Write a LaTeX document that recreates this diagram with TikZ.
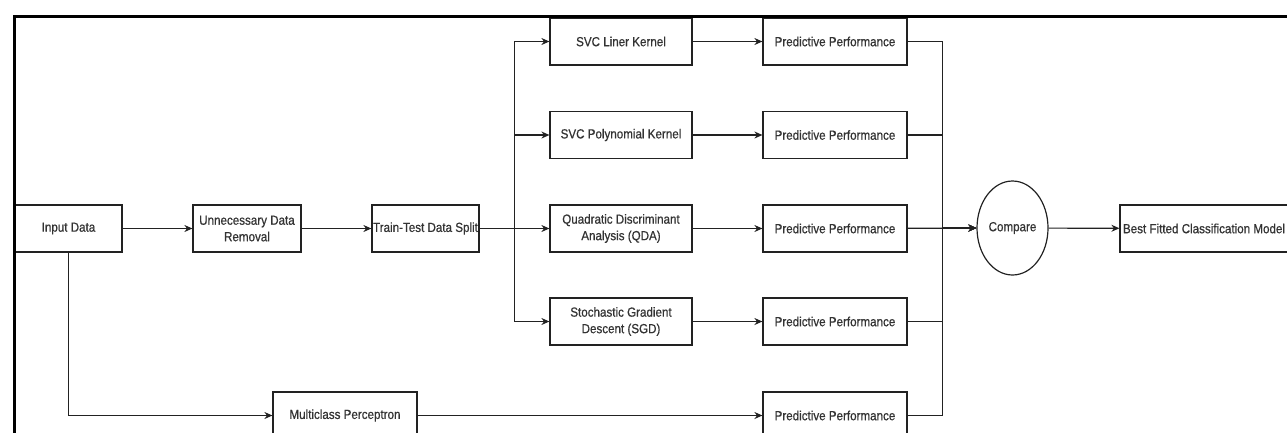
\documentclass[tikz,border=0pt]{standalone}
\usepackage{fontspec}
\setmainfont{Liberation Sans}[FakeStretch=0.88,FakeBold=0.6]
\usetikzlibrary{arrows.meta,shapes.geometric}
\definecolor{txt}{HTML}{333333}
\definecolor{edge}{HTML}{222222}
\begin{document}
\begin{tikzpicture}[x=1pt,y=-1pt,
  box/.style={draw=edge,line width=1.2pt,fill=white,minimum height=47pt,inner sep=1pt,align=center,text=txt,font=\fontsize{13.2}{16.5}\selectfont},
  oval/.style={draw=edge,line width=1.2pt,ellipse,minimum width=71pt,minimum height=94pt,inner sep=0pt,text=txt,font=\fontsize{13.2}{16.5}\selectfont},
  arr/.style={draw=edge,line width=1.2pt,-{Stealth[length=8pt,width=7pt]}},
  frame/.style={draw=black,line width=3pt}]
\useasboundingbox (0,0) rectangle (1287,432);
\clip (0,0) rectangle (1287,432);
% nodes
\node[box,minimum width=107pt] (in) at (68.5,228.5) {Input Data};
\node[box,minimum width=108pt] (rem) at (247,228.5) {Unnecessary Data\\Removal};
\node[box,minimum width=107pt] (split) at (425.5,228.5) {Train-Test Data Split};
\node[box,minimum width=142pt] (svc1) at (621,41.5) {SVC Liner Kernel};
\node[box,minimum width=142pt] (svc2) at (621,135) {SVC Polynomial Kernel};
\node[box,minimum width=142pt] (qda) at (621,228.5) {Quadratic Discriminant\\Analysis (QDA)};
\node[box,minimum width=142pt] (sgd) at (621,321.5) {Stochastic Gradient\\Descent (SGD)};
\node[box,minimum width=144pt] (mlp) at (345,415.5) {Multiclass Perceptron};
\node[box,minimum width=144pt] (pp1) at (835,41.5) {Predictive Performance};
\node[box,minimum width=144pt] (pp2) at (835,135) {Predictive Performance};
\node[box,minimum width=144pt] (pp3) at (835,228.5) {Predictive Performance};
\node[box,minimum width=144pt] (pp4) at (835,321.5) {Predictive Performance};
\node[box,minimum width=144pt] (pp5) at (835,415.5) {Predictive Performance};
\node[oval] (cmp) at (1012.5,228) {Compare};
\node[box,minimum width=168pt] (best) at (1204,228.5) {Best Fitted Classification Model};
% connectors
\draw[arr] (in) -- (rem);
\draw[arr] (rem) -- (split);
\draw[arr] (split) -- (qda);
\draw[arr] (split.east) -- ++(35,0) |- (svc1.west);
\draw[arr] (split.east) -- ++(35,0) |- (svc2.west);
\draw[arr] (split.east) -- ++(35,0) |- (sgd.west);
\draw[arr] (in.south) |- (mlp.west);
\draw[arr] (svc1) -- (pp1);
\draw[arr] (svc2) -- (pp2);
\draw[arr] (qda) -- (pp3);
\draw[arr] (sgd) -- (pp4);
\draw[arr] (mlp) -- (pp5);
\draw[arr] (pp3) -- (cmp);
\draw[arr] (pp1.east) -- ++(35,0) |- (cmp.west);
\draw[arr] (pp2.east) -- ++(35,0) |- (cmp.west);
\draw[arr] (pp4.east) -- ++(35,0) |- (cmp.west);
\draw[arr] (pp5.east) -- ++(35,0) |- (cmp.west);
\draw[arr] (cmp) -- (best);
% frame
\coordinate (fc) at (14,16);
\draw[frame] (14,440) -- (fc) -- (1300,16);
\end{tikzpicture}
\end{document}
